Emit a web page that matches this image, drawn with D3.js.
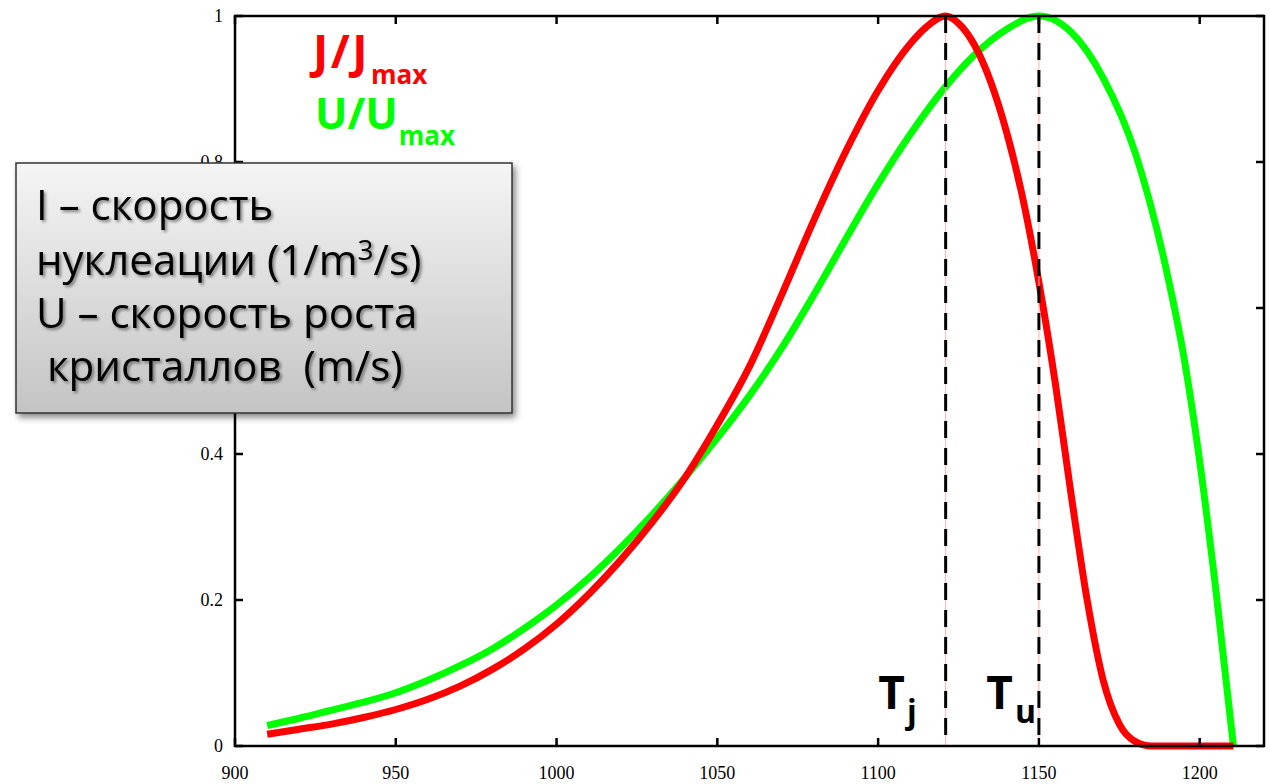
<!DOCTYPE html>
<html><head><meta charset="utf-8">
<script src="https://cdn.jsdelivr.net/npm/d3@7"></script>
<style>html,body{margin:0;padding:0;background:#fff;} svg{display:block}</style>
</head><body>
<svg id="chart" width="1270" height="784"></svg>
<script>
// ---- data ----
const jTemps  = [910,920,930,940,950,960,970,980,990,1000,1010,1020,1030,1040,1050,1060,1070,1080,1090,1100,1110,1115,1121,1125,1130,1135,1140,1145,1150,1155,1160,1165,1170,1175,1180,1185,1195,1210.5];
const jValues = [0.016,0.023,0.030,0.039,0.050,0.064,0.082,0.105,0.133,0.167,0.208,0.255,0.308,0.368,0.440,0.520,0.618,0.720,0.815,0.898,0.962,0.985,1.000,0.990,0.960,0.910,0.840,0.750,0.635,0.500,0.345,0.200,0.090,0.030,0.006,0,0,0];
const uTemps  = [910,920,930,940,950,960,970,980,990,1000,1010,1020,1030,1040,1050,1060,1070,1080,1090,1100,1110,1120,1130,1140,1150,1160,1170,1180,1190,1195,1200,1205,1210.5];
const uValues = [0.028,0.038,0.049,0.060,0.073,0.090,0.110,0.133,0.161,0.193,0.230,0.272,0.318,0.368,0.422,0.480,0.545,0.618,0.695,0.770,0.838,0.898,0.947,0.982,1.000,0.978,0.915,0.812,0.645,0.535,0.390,0.215,0];
const xTicks = [900,950,1000,1050,1100,1150,1200];
const xTickLabels = ["900","950","1000","1050","1100","1150","1200"];
const yTicks = [0,0.2,0.4,0.6,0.8,1];
const yTickLabels = ["0","0.2","0.4","0.6","0.8","1"];
const markerTemps = [1121,1150];
const markerSubs = ["j","u"];
const legendMains = ["J/J","U/U"];
const legendSub = "max";
const boxLines = ["I – скорость","нуклеации (1/m","U – скорость роста","\u00a0кристаллов \u00a0(m/s)"];

// ---- layout ----
const L = 235, R = 1264, T = 16, B = 746;
const x = d3.scaleLinear().domain([900,1220]).range([L,R]);
const y = d3.scaleLinear().domain([0,1]).range([B,T]);
const svg = d3.select("#chart");
const defs = svg.append("defs");

const grad = defs.append("linearGradient").attr("id","boxGrad").attr("x1",0).attr("y1",0).attr("x2",0).attr("y2",1);
grad.append("stop").attr("offset","0%").attr("stop-color","#f5f5f5");
grad.append("stop").attr("offset","100%").attr("stop-color","#c4c4c4");
const boxShadow = defs.append("filter").attr("id","boxShadow").attr("x","-10%").attr("y","-10%").attr("width","130%").attr("height","130%");
boxShadow.append("feDropShadow").attr("dx",3).attr("dy",4).attr("stdDeviation",3).attr("flood-color","#000").attr("flood-opacity",0.45);
const txtShadow = defs.append("filter").attr("id","txtShadow").attr("x","-10%").attr("y","-20%").attr("width","130%").attr("height","150%");
txtShadow.append("feDropShadow").attr("dx",2).attr("dy",2).attr("stdDeviation",1.5).attr("flood-color","#000").attr("flood-opacity",0.45);

// ---- curves ----
const lineJ = d3.line().x((d,i)=>x(jTemps[i])).y(d=>y(d)).curve(d3.curveMonotoneX);
const lineU = d3.line().x((d,i)=>x(uTemps[i])).y(d=>y(d)).curve(d3.curveMonotoneX);
svg.append("path").attr("d",lineU(uValues)).attr("fill","none").attr("stroke","#00ff00").attr("stroke-width",7);
svg.append("path").attr("d",lineJ(jValues)).attr("fill","none").attr("stroke","#ff0000").attr("stroke-width",7);

// ---- marker lines ----
markerTemps.forEach((t,i)=>{
  svg.append("line").attr("x1",x(t)).attr("x2",x(t)).attr("y1",T).attr("y2",B).attr("stroke","#ffb0b0").attr("stroke-width",1);
  svg.append("line").attr("x1",x(t)).attr("x2",x(t)).attr("y1",T).attr("y2",B).attr("stroke","#000").attr("stroke-width",3).attr("stroke-dasharray","17,10");
});

// ---- frame and ticks ----
svg.append("rect").attr("x",L).attr("y",T).attr("width",R-L).attr("height",B-T).attr("fill","none").attr("stroke","#000").attr("stroke-width",2.5);
const tk = 8;
const g = svg.append("g").attr("stroke","#000").attr("stroke-width",2.5);
xTicks.forEach(v=>{
  g.append("line").attr("x1",x(v)).attr("x2",x(v)).attr("y1",B).attr("y2",B-tk);
  g.append("line").attr("x1",x(v)).attr("x2",x(v)).attr("y1",T).attr("y2",T+tk);
});
yTicks.forEach(v=>{
  g.append("line").attr("x1",L).attr("x2",L+tk).attr("y1",y(v)).attr("y2",y(v));
  g.append("line").attr("x1",R).attr("x2",R-tk).attr("y1",y(v)).attr("y2",y(v));
});
svg.append("g").selectAll("text").data(xTicks).join("text")
  .attr("x",d=>x(d)).attr("y",779).attr("text-anchor","middle")
  .attr("font-family","'Liberation Serif','Times New Roman',serif").attr("font-size",18).attr("fill","#000")
  .text((d,i)=>xTickLabels[i]);
svg.append("g").selectAll("text").data(yTicks).join("text")
  .attr("x",223).attr("y",d=>y(d)).attr("dy","0.35em").attr("text-anchor","end")
  .attr("font-family","'Liberation Serif','Times New Roman',serif").attr("font-size",18).attr("fill","#000")
  .text((d,i)=>yTickLabels[i]);

// ---- marker labels ----
const mOff = [29,3];
markerTemps.forEach((t,i)=>{
  const tx = svg.append("text").attr("x",x(t)-mOff[i]).attr("y",709).attr("text-anchor","end")
    .attr("font-family","'Open Sans',sans-serif").attr("font-weight",700).attr("fill","#000");
  tx.append("tspan").attr("font-size",46).text("T");
  tx.append("tspan").attr("font-size",32).attr("dx",2).attr("dy",14).text(markerSubs[i]);
});

// ---- legend ----
const legendColors = ["#ff0000","#00ff00"];
const legendY = [68,129];
const legendSize = [46,43];
const legendSpacing = [2.5,0];
legendMains.forEach((m,i)=>{
  const tx = svg.append("text").attr("x",313+2*i).attr("y",legendY[i])
    .attr("font-family","'Open Sans',sans-serif").attr("font-weight",700).attr("fill",legendColors[i]);
  tx.append("tspan").attr("font-size",legendSize[i]).attr("letter-spacing",legendSpacing[i]).text(m);
  tx.append("tspan").attr("font-size",26).attr("letter-spacing",0).attr("dx",1).attr("dy",16).text(legendSub);
});

// ---- annotation box ----
svg.append("rect").attr("x",16).attr("y",163).attr("width",496).attr("height",250)
  .attr("fill","url(#boxGrad)").attr("stroke","#333").attr("stroke-width",1.5).attr("filter","url(#boxShadow)");
const bt = svg.append("g").attr("font-family","'Open Sans',sans-serif").attr("font-size",42).attr("fill","#000").attr("filter","url(#txtShadow)");
const baseY = [220,275,328,381];
boxLines.forEach((s,i)=>{
  const t = bt.append("text").attr("x",36).attr("y",baseY[i]).attr("xml:space","preserve");
  t.append("tspan").text(s);
  if(i===1){
    t.append("tspan").attr("font-size",28).attr("dy",-15).text("3");
    t.append("tspan").attr("dy",15).text("/s)");
  }
});
</script>
</body></html>
